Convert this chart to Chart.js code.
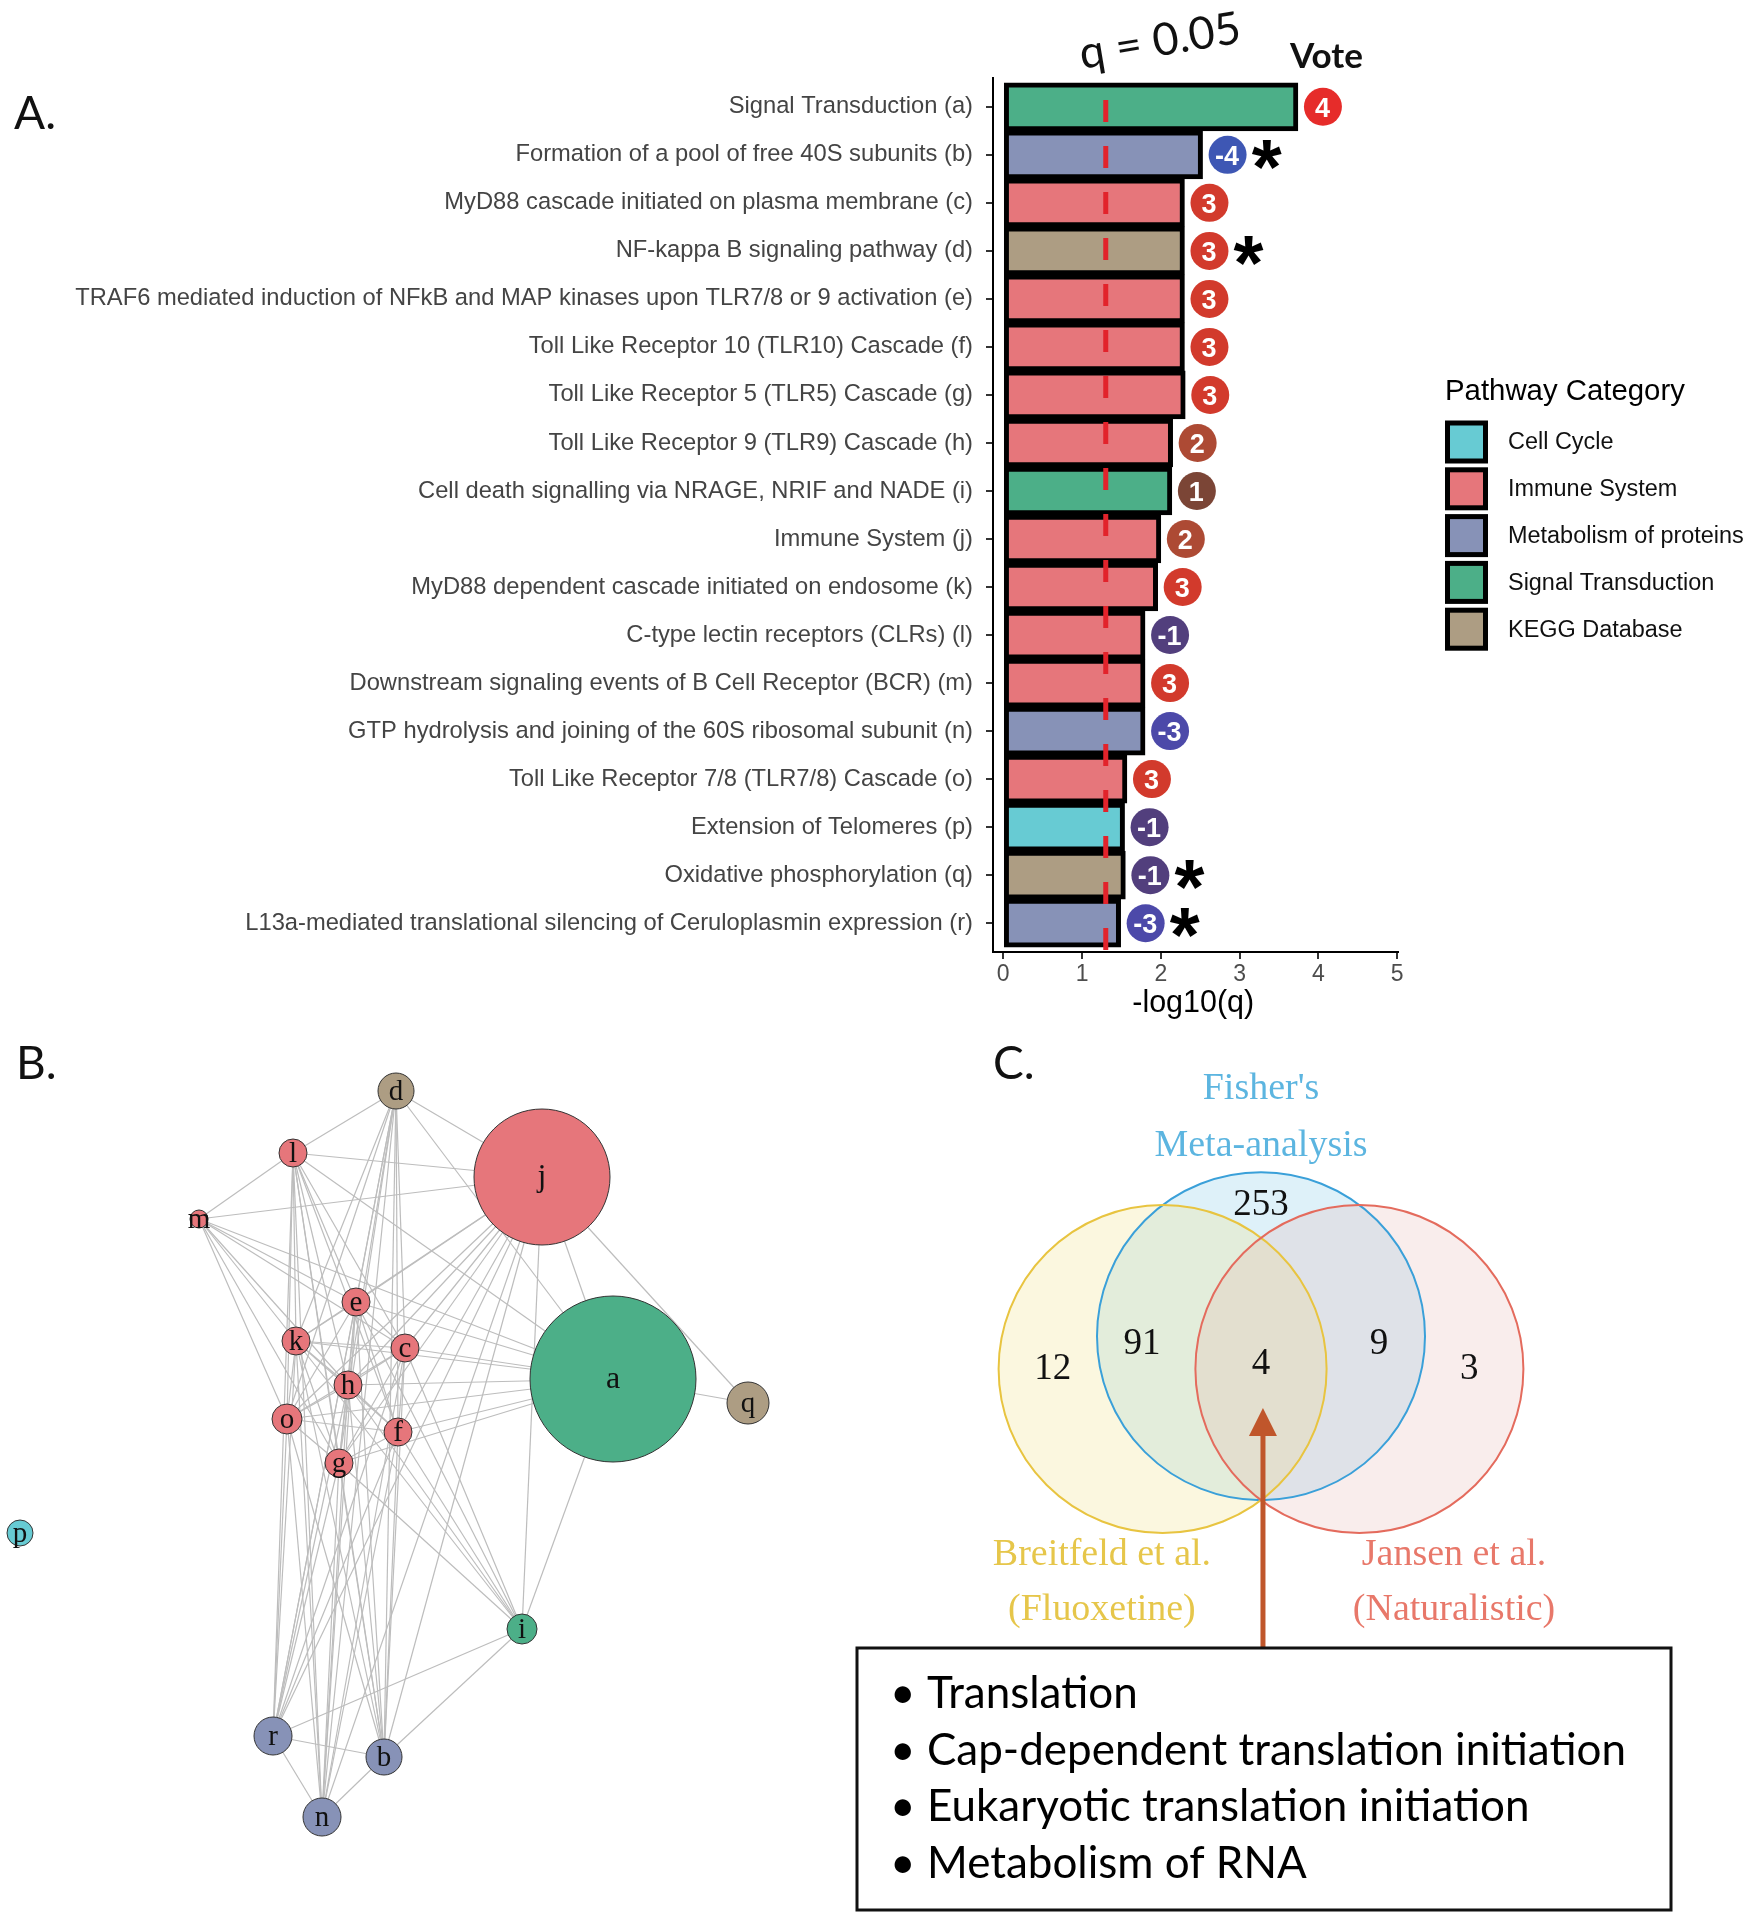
<!DOCTYPE html>
<html>
<head>
<meta charset="utf-8">
<title>Pathway enrichment, network and Venn</title>
<script src="https://cdn.jsdelivr.net/npm/chart.js@4.4.1/dist/chart.umd.min.js"></script>
<style>
  html, body { margin: 0; padding: 0; background: #fff; }
  #page { position: relative; width: 1750px; height: 1924px; overflow: hidden; }
  canvas { position: absolute; }
</style>
</head>
<body>
<div id="page">
  <canvas id="barChart" width="1750" height="1040" style="left:0;top:0"></canvas>
  <canvas id="netChart" width="840" height="884" style="left:0;top:1040px"></canvas>
  <canvas id="vennChart" width="910" height="884" style="left:840px;top:1040px"></canvas>
</div>
<script>
// ---------- Panel A: enriched pathways ----------
const pathways = [
  'Signal Transduction (a)',
  'Formation of a pool of free 40S subunits (b)',
  'MyD88 cascade initiated on plasma membrane (c)',
  'NF-kappa B signaling pathway (d)',
  'TRAF6 mediated induction of NFkB and MAP kinases upon TLR7/8 or 9 activation (e)',
  'Toll Like Receptor 10 (TLR10) Cascade (f)',
  'Toll Like Receptor 5 (TLR5) Cascade (g)',
  'Toll Like Receptor 9 (TLR9) Cascade (h)',
  'Cell death signalling via NRAGE, NRIF and NADE (i)',
  'Immune System (j)',
  'MyD88 dependent cascade initiated on endosome (k)',
  'C-type lectin receptors (CLRs) (l)',
  'Downstream signaling events of B Cell Receptor (BCR) (m)',
  'GTP hydrolysis and joining of the 60S ribosomal subunit (n)',
  'Toll Like Receptor 7/8 (TLR7/8) Cascade (o)',
  'Extension of Telomeres (p)',
  'Oxidative phosphorylation (q)',
  'L13a-mediated translational silencing of Ceruloplasmin expression (r)'
];
const negLog10Q = [3.74, 2.53, 2.30, 2.30, 2.30, 2.30, 2.31, 2.15, 2.14, 2.00, 1.96, 1.80, 1.80, 1.80, 1.57, 1.54, 1.55, 1.49];
const pathwayCategory = [
  'Signal Transduction', 'Metabolism of proteins', 'Immune System', 'KEGG Database',
  'Immune System', 'Immune System', 'Immune System', 'Immune System', 'Signal Transduction',
  'Immune System', 'Immune System', 'Immune System', 'Immune System', 'Metabolism of proteins',
  'Immune System', 'Cell Cycle', 'KEGG Database', 'Metabolism of proteins'
];
const votes = [4, -4, 3, 3, 3, 3, 3, 2, 1, 2, 3, -1, 3, -3, 3, -1, -1, -3];
const starred = [false, true, false, true, false, false, false, false, false, false, false, false, false, false, false, false, true, true];
const categoryNames = ['Cell Cycle', 'Immune System', 'Metabolism of proteins', 'Signal Transduction', 'KEGG Database'];
const xTicks = [0, 1, 2, 3, 4, 5];
const qThreshold = 0.05;

// ---------- Panel B: pathway network ----------
const nodeIds = ['a', 'b', 'c', 'd', 'e', 'f', 'g', 'h', 'i', 'j', 'k', 'l', 'm', 'n', 'o', 'p', 'q', 'r'];
const nodeX = [613, 384, 405, 396, 356, 398, 339, 348, 522, 542, 296, 293, 199, 322, 287, 20, 748, 273];
const nodeY = [339, 717, 308, 51, 262, 392, 423, 345, 589, 137, 301, 113, 179, 777, 379, 493, 363, 696];
const nodeSize = [83, 18, 14, 18, 14, 14, 14, 14, 15, 68, 14, 14, 9, 19, 15, 13, 21, 19];
const edges = [
  'dl', 'dj', 'da', 'de', 'dk', 'dh', 'dc', 'dg', 'df', 'do', 'dr', 'dn', 'db',
  'lm', 'lj', 'lk', 'lo', 'le', 'lh', 'lc', 'lg', 'lf', 'la', 'lr', 'ln', 'lb',
  'mj', 'me', 'mk', 'mc', 'mh', 'mo', 'mg', 'ma',
  'je', 'jk', 'jc', 'jh', 'jo', 'jf', 'jg', 'ja', 'jq', 'ji', 'jr', 'jb', 'jn',
  'aq', 'ac', 'af', 'ah', 'ak', 'ae', 'ao', 'ag', 'ai',
  'ek', 'ec', 'eh', 'eo', 'ef', 'eg', 'ei', 'er', 'en', 'eb',
  'kc', 'kh', 'ko', 'kf', 'kg', 'ki', 'kr', 'kn', 'kb',
  'ch', 'co', 'cf', 'cg', 'ci', 'cr', 'cn', 'cb',
  'ho', 'hf', 'hg', 'hi', 'hr', 'hn', 'hb',
  'of', 'og', 'or', 'on', 'ob',
  'fg', 'fi', 'fr', 'fn', 'fb',
  'gi', 'gr', 'gn', 'gb',
  'ir', 'ib', 'rb', 'rn', 'bn'
];

// ---------- Panel C: Venn diagram ----------
const vennSetNames = [["Fisher's", 'Meta-analysis'], ['Breitfeld et al.', '(Fluoxetine)'], ['Jansen et al.', '(Naturalistic)']];
const vennCenterX = [0, -0.6, 0.6];
const vennCenterY = [0.2, 0, 0];
const vennRadius = [1, 1, 1];
const vennCounts = [253, 12, 91, 4, 9, 3];
const sharedPathways = ['Translation', 'Cap-dependent translation initiation', 'Eukaryotic translation initiation', 'Metabolism of RNA'];

// ---------- styles ----------
const categoryColors = {
  'Cell Cycle': '#67cbd3',
  'Immune System': '#e6767b',
  'Metabolism of proteins': '#8792b7',
  'Signal Transduction': '#4caf88',
  'KEGG Database': '#ad9d83'
};
const voteColors = { '4': '#e62c2a', '3': '#d23a2c', '2': '#ad4a34', '1': '#7b4536', '-1': '#523f7d', '-3': '#4c49a9', '-4': '#3e57b4' };
const vennFill = ['rgba(135,206,235,0.28)', 'rgba(238,226,130,0.26)', 'rgba(225,165,160,0.20)'];
const vennStroke = ['#3aa0d9', '#e8c440', '#e46b5d'];
const vennText = ['#5cb5e0', '#e6c64a', '#e8786a'];

// font size so that a text has a given width
function fitSize(text, weight, family, width) {
  const c = document.createElement('canvas').getContext('2d');
  c.font = `${weight} 100px "${family}"`;
  return 100 * width / c.measureText(text).width;
}

const SANS = 'Liberation Sans';
const SERIF = 'Liberation Serif';
const labelSize = fitSize(pathways[4], '400', SANS, 898);
const legendSize = fitSize('Metabolism of proteins', '400', SANS, 236);

function panelLetter(ctx, txt, x, y) {
  ctx.save();
  ctx.fillStyle = '#111';
  ctx.font = '46px "Lato"';
  ctx.textAlign = 'left';
  ctx.textBaseline = 'alphabetic';
  ctx.fillText(txt, x, y);
  ctx.restore();
}

// ---------- Panel A ----------
const panelAPlugin = {
  id: 'panelA',
  afterDatasetsDraw(chart) {
    const { ctx, chartArea, scales: { x } } = chart;

    // q = 0.05 threshold
    const qx = x.getPixelForValue(-Math.log10(qThreshold));
    ctx.save();
    ctx.strokeStyle = '#e2232b';
    ctx.lineWidth = 5;
    ctx.setLineDash([22, 24]);
    ctx.lineDashOffset = 24;
    ctx.beginPath();
    ctx.moveTo(qx, chartArea.top);
    ctx.lineTo(qx, chartArea.bottom);
    ctx.stroke();
    ctx.restore();

    // vote badges
    const meta = chart.getDatasetMeta(0);
    ctx.save();
    ctx.font = 'bold 100px "' + SANS + '"';
    const m = ctx.measureText('*');
    const starSize = 100 * 30 / (m.actualBoundingBoxRight + m.actualBoundingBoxLeft);
    meta.data.forEach((bar, i) => {
      const cx = bar.x + 25, cy = bar.y;
      ctx.fillStyle = voteColors[String(votes[i])];
      ctx.beginPath();
      ctx.arc(cx, cy, 19, 0, Math.PI * 2);
      ctx.fill();
      ctx.fillStyle = '#fff';
      ctx.font = 'bold 27px "' + SANS + '"';
      ctx.textAlign = 'center';
      ctx.textBaseline = 'alphabetic';
      ctx.fillText(String(votes[i]), cx - 0.5, cy + 10);
      if (starred[i]) {
        ctx.fillStyle = '#000';
        ctx.font = 'bold ' + starSize + 'px "' + SANS + '"';
        const sm = ctx.measureText('*');
        const y0 = cy + (sm.actualBoundingBoxAscent - sm.actualBoundingBoxDescent) / 2;
        ctx.fillText('*', cx + 39, y0);
      }
    });
    ctx.restore();
  },
  afterDraw(chart) {
    const { ctx, scales: { x } } = chart;
    ctx.save();

    // q = 0.05 label, tilted
    ctx.fillStyle = '#111';
    ctx.save();
    ctx.translate(1082, 69);
    ctx.rotate(-9.5 * Math.PI / 180);
    ctx.font = fitSize('q = 0.05', '400', 'Lato', 163) + 'px "Lato"';
    ctx.textAlign = 'left';
    ctx.textBaseline = 'alphabetic';
    ctx.fillText('q = 0.05', 0, 0);
    ctx.restore();

    // Vote header
    ctx.font = 'bold ' + fitSize('Vote', 'bold', 'Lato', 73) + 'px "Lato"';
    ctx.textAlign = 'left';
    ctx.fillText('Vote', 1290, 68);

    // x axis title
    ctx.fillStyle = '#000';
    ctx.font = fitSize('-log10(q)', '400', SANS, 122) + 'px "' + SANS + '"';
    ctx.textAlign = 'center';
    ctx.fillText('-log10(q)', (x.getPixelForValue(0) + x.getPixelForValue(5)) / 2 - 7, 1012);

    // legend
    ctx.textAlign = 'left';
    ctx.font = fitSize('Pathway Category', '400', SANS, 240) + 'px "' + SANS + '"';
    ctx.fillText('Pathway Category', 1445, 400);
    ctx.font = legendSize + 'px "' + SANS + '"';
    ctx.textBaseline = 'middle';
    categoryNames.forEach((name, i) => {
      const cy = 442 + i * 46.8;
      ctx.fillStyle = '#000';
      ctx.fillRect(1445, cy - 21.5, 43, 43);
      ctx.fillStyle = categoryColors[name];
      ctx.fillRect(1450, cy - 16.5, 33, 33);
      ctx.fillStyle = '#111';
      ctx.fillText(name, 1508, cy + 1);
    });
    ctx.restore();

    panelLetter(ctx, 'A.', 14, 129);
  }
};

new Chart(document.getElementById('barChart'), {
  type: 'bar',
  data: {
    datasets: [{
      data: negLog10Q.map((v, i) => ({ x: v, y: i })),
      backgroundColor: pathwayCategory.map(c => categoryColors[c]),
      borderColor: '#000',
      borderWidth: 5,
      borderSkipped: false,
      barThickness: 48
    }]
  },
  options: {
    indexAxis: 'y',
    responsive: false,
    animation: false,
    devicePixelRatio: 1,
    events: [],
    layout: { padding: { left: 0, right: 352, top: 78, bottom: 0 } },
    plugins: { legend: { display: false }, tooltip: { enabled: false } },
    scales: {
      x: {
        type: 'linear',
        min: -0.13,
        max: 5.01,
        afterFit: s => { s.height = 88; },
        afterBuildTicks: s => { s.ticks = xTicks.map(v => ({ value: v })); },
        grid: { drawOnChartArea: false, tickLength: 7, color: '#333', lineWidth: 2 },
        border: { color: '#000', width: 2 },
        ticks: { color: '#4d4d4d', font: { family: SANS, size: 23 }, padding: 2 }
      },
      y: {
        type: 'linear',
        min: -0.6,
        max: 17.6,
        reverse: true,
        offset: false,
        afterFit: s => { s.width = 993; },
        afterBuildTicks: s => { s.ticks = pathways.map((p, i) => ({ value: i })); },
        grid: { offset: false, drawOnChartArea: false, tickLength: 7, color: '#333', lineWidth: 2 },
        border: { color: '#000', width: 2 },
        ticks: {
          color: '#444',
          font: { family: SANS, size: labelSize },
          padding: 13,
          autoSkip: false,
          callback: v => pathways[v]
        }
      }
    }
  },
  plugins: [panelAPlugin]
});

// ---------- Panel B ----------
const networkPlugin = {
  id: 'network',
  beforeDatasetsDraw(chart) {
    const { ctx, scales: { x, y } } = chart;
    ctx.save();
    ctx.strokeStyle = '#bdbdbd';
    ctx.lineWidth = 1.2;
    edges.forEach(e => {
      const i = nodeIds.indexOf(e[0]), j = nodeIds.indexOf(e[1]);
      ctx.beginPath();
      ctx.moveTo(x.getPixelForValue(nodeX[i]), y.getPixelForValue(nodeY[i]));
      ctx.lineTo(x.getPixelForValue(nodeX[j]), y.getPixelForValue(nodeY[j]));
      ctx.stroke();
    });
    ctx.restore();
  },
  afterDatasetsDraw(chart) {
    const { ctx } = chart;
    const meta = chart.getDatasetMeta(0);
    ctx.save();
    ctx.fillStyle = '#111';
    ctx.textAlign = 'center';
    ctx.textBaseline = 'middle';
    meta.data.forEach((pt, i) => {
      ctx.font = (nodeSize[i] > 40 ? 32 : 29) + 'px "' + SERIF + '"';
      ctx.fillText(nodeIds[i], pt.x, pt.y + 1);
    });
    ctx.restore();
  },
  afterDraw(chart) {
    panelLetter(chart.ctx, 'B.', 16, 39);
  }
};

new Chart(document.getElementById('netChart'), {
  type: 'bubble',
  data: {
    datasets: [{
      data: nodeIds.map((id, i) => ({ x: nodeX[i], y: nodeY[i], r: nodeSize[i] })),
      backgroundColor: nodeIds.map((id, i) => categoryColors[pathwayCategory[i]]),
      borderColor: '#333',
      borderWidth: 1
    }]
  },
  options: {
    responsive: false,
    animation: false,
    devicePixelRatio: 1,
    events: [],
    layout: { padding: 0, autoPadding: false },
    clip: false,
    plugins: { legend: { display: false }, tooltip: { enabled: false } },
    scales: {
      x: { type: 'linear', min: 0, max: 840, display: false },
      y: { type: 'linear', min: 0, max: 884, reverse: true, display: false }
    }
  },
  plugins: [networkPlugin]
});

// ---------- Panel C ----------
const countX = [0, -1.27, -0.726, 0, 0.72, 1.27];
const countY = [1.0, 0, 0.152, 0.03, 0.152, 0];
const setLabelX = [0, -0.97, 1.177];
const setLabelY = [[1.707, 1.36], [-1.134, -1.47], [-1.134, -1.47]];

const vennPlugin = {
  id: 'venn',
  beforeDatasetsDraw(chart) {
    const { ctx, scales: { x, y } } = chart;
    ctx.save();
    const circ = vennCenterX.map((cx, i) => {
      const px = x.getPixelForValue(cx), py = y.getPixelForValue(vennCenterY[i]);
      return { px, py, pr: x.getPixelForValue(cx + vennRadius[i]) - px };
    });
    circ.forEach((c, i) => {
      ctx.fillStyle = vennFill[i];
      ctx.beginPath();
      ctx.arc(c.px, c.py, c.pr, 0, Math.PI * 2);
      ctx.fill();
    });
    ctx.lineWidth = 2;
    circ.forEach((c, i) => {
      ctx.strokeStyle = vennStroke[i];
      ctx.beginPath();
      ctx.arc(c.px, c.py, c.pr, 0, Math.PI * 2);
      ctx.stroke();
    });

    // set names
    const nameSize = fitSize('Meta-analysis', '400', SERIF, 213);
    ctx.font = nameSize + 'px "' + SERIF + '"';
    ctx.textAlign = 'center';
    ctx.textBaseline = 'middle';
    vennSetNames.forEach((lines, i) => {
      ctx.fillStyle = vennText[i];
      lines.forEach((t, k) => {
        ctx.fillText(t, x.getPixelForValue(setLabelX[i]), y.getPixelForValue(setLabelY[i][k]));
      });
    });
    ctx.restore();
  },
  afterDatasetsDraw(chart) {
    const { ctx, scales: { x, y } } = chart;
    const meta = chart.getDatasetMeta(0);
    ctx.save();
    ctx.fillStyle = '#111';
    ctx.font = '37px "' + SERIF + '"';
    ctx.textAlign = 'center';
    ctx.textBaseline = 'middle';
    meta.data.forEach((pt, i) => ctx.fillText(String(vennCounts[i]), pt.x, pt.y));

    // box with the four shared pathways
    const bx = 17, by = 608, bw = 814, bh = 262;
    const ax = x.getPixelForValue(0.012);
    const tipY = y.getPixelForValue(-0.238);
    ctx.fillStyle = '#c0562b';
    ctx.fillRect(ax - 2.5, tipY + 26, 5, by - tipY - 26);
    ctx.beginPath();
    ctx.moveTo(ax, tipY);
    ctx.lineTo(ax - 14, tipY + 28);
    ctx.lineTo(ax + 14, tipY + 28);
    ctx.closePath();
    ctx.fill();

    ctx.strokeStyle = '#111';
    ctx.lineWidth = 3;
    ctx.strokeRect(bx, by, bw, bh);
    const bs = fitSize(sharedPathways[1], '400', 'Lato', 699);
    ctx.font = bs + 'px "Lato"';
    ctx.fillStyle = '#000';
    ctx.textAlign = 'left';
    ctx.textBaseline = 'alphabetic';
    sharedPathways.forEach((t, k) => {
      const cy = 652 + k * 56.7;
      ctx.fillText('\u2022', 50, cy + bs * 0.36);
      ctx.fillText(t, 87, cy + bs * 0.36);
    });
    ctx.restore();
    panelLetter(ctx, 'C.', 153, 39);
  }
};

new Chart(document.getElementById('vennChart'), {
  type: 'scatter',
  data: {
    datasets: [{
      data: vennCounts.map((c, i) => ({ x: countX[i], y: countY[i] })),
      pointRadius: 0
    }]
  },
  options: {
    responsive: false,
    animation: false,
    devicePixelRatio: 1,
    events: [],
    layout: { padding: 0, autoPadding: false },
    plugins: { legend: { display: false }, tooltip: { enabled: false } },
    scales: {
      x: { type: 'linear', min: -421 / 164, max: 489 / 164, display: false },
      y: { type: 'linear', min: -555 / 164, max: 329 / 164, display: false }
    }
  },
  plugins: [vennPlugin]
});
</script>
</body>
</html>
